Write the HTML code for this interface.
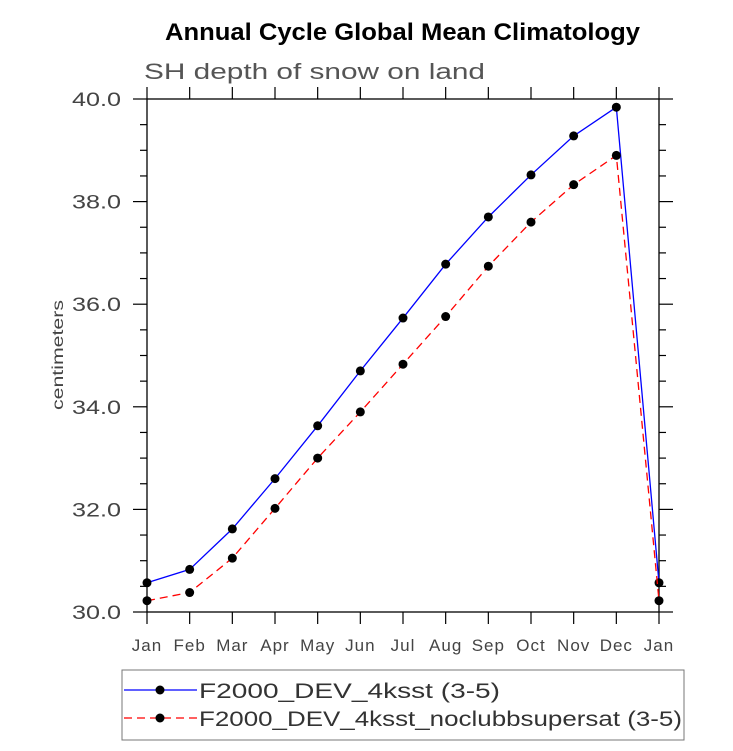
<!DOCTYPE html>
<html><head><meta charset="utf-8"><style>
body{margin:0;background:#fff;}
svg text{font-family:"Liberation Sans",sans-serif;}
</style></head><body>
<svg id="chart" width="733" height="746" xmlns="http://www.w3.org/2000/svg">
<rect width="733" height="746" fill="#fff"/>
<text x="165" y="40" textLength="475" lengthAdjust="spacingAndGlyphs" font-size="24" font-weight="bold">Annual Cycle Global Mean Climatology</text>
<text x="144" y="79" textLength="341" lengthAdjust="spacingAndGlyphs" font-size="22" fill="#555">SH depth of snow on land</text>
<text transform="translate(63,355) rotate(-90)" text-anchor="middle" textLength="110" lengthAdjust="spacingAndGlyphs" font-size="16" fill="#444">centimeters</text>
<g id="axes"></g>
<g id="series"></g>
<g>
<rect x="122" y="670" width="562" height="70" fill="none" stroke="#777" stroke-width="1"/>
<line x1="124" y1="690" x2="197" y2="690" stroke="#0000ff" stroke-width="1.3"/>
<circle cx="160" cy="690" r="4.5" fill="#000"/>
<text x="199" y="698" textLength="301" lengthAdjust="spacingAndGlyphs" font-size="21" fill="#333">F2000_DEV_4ksst (3-5)</text>
<line x1="124" y1="718" x2="197" y2="718" stroke="#ff0000" stroke-width="1.3" stroke-dasharray="8,5"/>
<circle cx="160" cy="718" r="4.5" fill="#000"/>
<text x="199" y="726" textLength="483" lengthAdjust="spacingAndGlyphs" font-size="21" fill="#333">F2000_DEV_4ksst_noclubbsupersat (3-5)</text>
</g>
</svg>
<script>
const months=["Jan","Feb","Mar","Apr","May","Jun","Jul","Aug","Sep","Oct","Nov","Dec","Jan"];
const blueValues=[30.57,30.83,31.62,32.6,33.63,34.7,35.73,36.78,37.7,38.52,39.28,39.84,30.57];
const redValues=[30.22,30.38,31.05,32.02,33.0,33.9,34.83,35.76,36.74,37.6,38.33,38.9,30.22];
const yTicks=["30.0","32.0","34.0","36.0","38.0","40.0"];
const NS="http://www.w3.org/2000/svg";
const L=147,R=659,T=99,B=612,yMin=30,yMax=40;
function xs(i){return L+(R-L)*i/(months.length-1);}
function ys(v){return B-(v-yMin)/(yMax-yMin)*(B-T);}
function mk(tag,attrs,parent){const e=document.createElementNS(NS,tag);for(const k in attrs)e.setAttribute(k,attrs[k]);parent.appendChild(e);return e;}
const ax=document.getElementById('axes');
const frame=mk('rect',{x:L,y:T,width:R-L,height:B-T,fill:'none',stroke:'#000','stroke-width':1.3},ax);


months.forEach((m,i)=>{const x=xs(i);
mk('line',{x1:x,y1:T,x2:x,y2:T-12,stroke:'#000','stroke-width':1.2},ax);
mk('line',{x1:x,y1:B,x2:x,y2:B+12,stroke:'#000','stroke-width':1.2},ax);
const t=mk('text',{x:x,y:B+39,'text-anchor':'middle','font-size':17,'letter-spacing':1,fill:'#444'},ax);t.textContent=m;

});
for(let v=yMin;v<=yMax+1e-9;v+=0.5){const y=ys(v);const major=Math.abs(v/2-Math.round(v/2))<1e-6;const len=major?14:7;
mk('line',{x1:L,y1:y,x2:L-len,y2:y,stroke:'#000','stroke-width':1.2},ax);
mk('line',{x1:R,y1:y,x2:R+len,y2:y,stroke:'#000','stroke-width':1.2},ax);}
yTicks.forEach(s=>{const t=mk('text',{x:72,y:ys(parseFloat(s))+7,textLength:49,lengthAdjust:'spacingAndGlyphs','font-size':19,fill:'#444'},ax);t.textContent=s;

});
const sg=document.getElementById('series');
function draw(vals,color,dash,name){const pts=vals.map((v,i)=>xs(i)+','+ys(v)).join(' ');
const pl=mk('polyline',{points:pts,fill:'none',stroke:color,'stroke-width':1.3},sg);
if(dash)pl.setAttribute('stroke-dasharray',dash);


vals.forEach((v,i)=>{const c=mk('circle',{cx:xs(i),cy:ys(v),r:4.5,fill:'#000'},sg);

});}
draw(blueValues,'#0000ff',null,'f2000-dev-4ksst');
draw(redValues,'#ff0000','8,5','f2000-dev-4ksst-noclubbsupersat');
</script>
</body></html>
